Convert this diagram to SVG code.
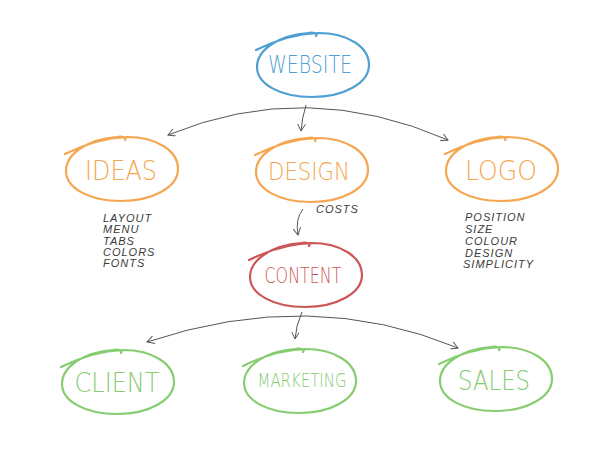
<svg xmlns="http://www.w3.org/2000/svg" width="601" height="452" viewBox="0 0 601 452">
<style>
.loop{fill:none;stroke-width:2.2;stroke-linecap:round;stroke-linejoin:round}
.t{font-family:"DejaVu Sans","Liberation Sans",sans-serif;font-weight:200;text-anchor:middle}
.sb{stroke:#4f9fd3}.fb{fill:#4f9fd3}
.so{stroke:#f4a650}.fo{fill:#f4a650}
.sr{stroke:#cc5555}.fr{fill:#cc5555}
.sg{stroke:#86cc70}.fg{fill:#86cc70}
.note{font-family:"Liberation Sans","DejaVu Sans",sans-serif;font-style:italic;font-size:11px;letter-spacing:1px;fill:#3a3a3a}
.conn{fill:none;stroke:#555;stroke-width:1}
</style>
<defs>
<path id="loop" d="M -56,-15 C -38,-24 -18,-31 6,-32 C 36,-32 57,-18 57,0 C 57,18 32,32 0,32 C -32,32 -55,19 -55,2 C -55,-16 -32,-30 -4,-32 C 2,-33 6,-31 4,-29"/>
<marker id="arr" viewBox="0 0 10 10" refX="9" refY="5" markerWidth="8" markerHeight="8" markerUnits="userSpaceOnUse" orient="auto-start-reverse">
<path d="M 0,0 L 9,5 L 0,10" fill="none" stroke="#555" stroke-width="1.2"/>
</marker>
</defs>
<rect width="601" height="452" fill="#fff"/>
<g id="connectors">
<path class="conn" d="M 168,135 Q 306,78 448,140" marker-start="url(#arr)" marker-end="url(#arr)"/>
<path class="conn" d="M 306,105 Q 302,118 301,131" marker-end="url(#arr)"/>
<path class="conn" d="M 303,209 Q 295,219 298,235" marker-end="url(#arr)"/>
<path class="conn" d="M 147,342 Q 311,287 458,348" marker-start="url(#arr)" marker-end="url(#arr)"/>
<path class="conn" d="M 302,312 Q 296,325 295,339" marker-end="url(#arr)"/>
<text class="note" x="316" y="213">COSTS</text>
</g>
<g id="website">
<use href="#loop" class="loop sb" transform="translate(312,65)"/>
<text class="t fb" x="310" y="73" font-size="24" textLength="84" lengthAdjust="spacingAndGlyphs">WEBSITE</text>
</g>
<g id="ideas">
<use href="#loop" class="loop so" transform="translate(121,169)"/>
<text class="t fo" x="121" y="180" font-size="27" textLength="72" lengthAdjust="spacingAndGlyphs">IDEAS</text>
</g>
<g id="design">
<use href="#loop" class="loop so" transform="translate(311,170)"/>
<text class="t fo" x="309" y="180" font-size="24" textLength="82" lengthAdjust="spacingAndGlyphs">DESIGN</text>
</g>
<g id="logo">
<use href="#loop" class="loop so" transform="translate(501,169)"/>
<text class="t fo" x="501" y="180" font-size="27" textLength="72" lengthAdjust="spacingAndGlyphs">LOGO</text>
</g>
<g id="ideas-notes">
<text class="note" x="103" y="222">LAYOUT</text>
<text class="note" x="103" y="233">MENU</text>
<text class="note" x="103" y="245">TABS</text>
<text class="note" x="103" y="256">COLORS</text>
<text class="note" x="103" y="267">FONTS</text>
</g>
<g id="logo-notes">
<text class="note" x="465" y="221">POSITION</text>
<text class="note" x="465" y="233">SIZE</text>
<text class="note" x="465" y="245">COLOUR</text>
<text class="note" x="465" y="257">DESIGN</text>
<text class="note" x="463" y="268">SIMPLICITY</text>
</g>
<g id="content">
<use href="#loop" class="loop sr" transform="translate(305,275)"/>
<text class="t fr" x="303" y="283" font-size="22" textLength="77" lengthAdjust="spacingAndGlyphs">CONTENT</text>
</g>
<g id="client">
<use href="#loop" class="loop sg" transform="translate(117,382)"/>
<text class="t fg" x="117" y="392" font-size="26" textLength="85" lengthAdjust="spacingAndGlyphs">CLIENT</text>
</g>
<g id="marketing">
<use href="#loop" class="loop sg" transform="translate(299,381)"/>
<text class="t fg" x="302" y="387" font-size="19" textLength="89" lengthAdjust="spacingAndGlyphs">MARKETING</text>
</g>
<g id="sales">
<use href="#loop" class="loop sg" transform="translate(495,379)"/>
<text class="t fg" x="494" y="390" font-size="27" textLength="72" lengthAdjust="spacingAndGlyphs">SALES</text>
</g>
</svg>
